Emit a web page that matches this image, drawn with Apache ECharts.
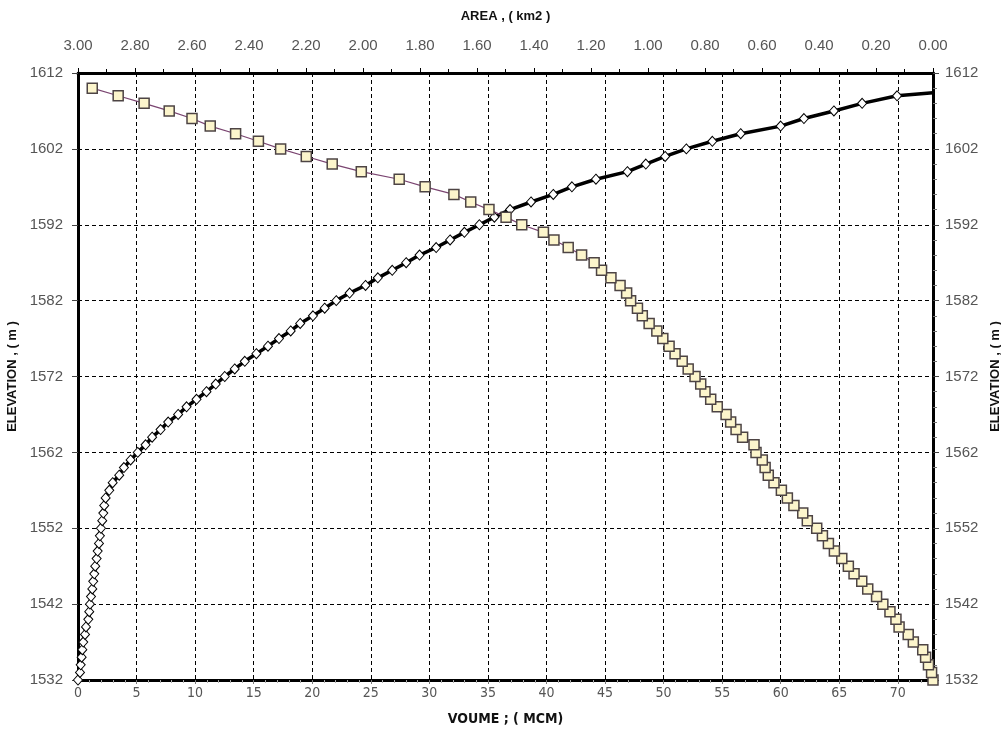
<!DOCTYPE html>
<html>
<head>
<meta charset="utf-8">
<script src="https://cdn.jsdelivr.net/npm/echarts@6/dist/echarts.min.js"></script>
<style>html,body{margin:0;padding:0;background:#fff}#c{width:1001px;height:744px}</style>
</head>
<body>
<div id="c"></div>
<script>
// Volume curve (bottom axis, MCM) vs elevation (m)
const volElev = [1532,1533,1534,1535,1536,1537,1538,1539,1540,1541,
  1542,1543,1544,1545,1546,1547,1548,1549,1550,1551,
  1552,1553,1554,1555,1556,1557,1558,1559,1560,1561,
  1562,1563,1564,1565,1566,1567,1568,1569,1570,1571,
  1572,1573,1574,1575,1576,1577,1578,1579,1580,1581,
  1582,1583,1584,1585,1586,1587,1588,1589,1590,1591,
  1592,1593,1594,1595,1596,1597,1598,1599,1600,1601,
  1602,1603,1604,1605,1606,1607,1608,1609,1609.4];
const volValues = [0,0.17,0.23,0.31,0.37,0.45,0.60,0.68,0.88,0.96,
  1.02,1.11,1.22,1.30,1.39,1.47,1.59,1.68,1.79,1.87,
  1.96,2.07,2.16,2.24,2.36,2.67,2.96,3.52,3.92,4.49,
  5.10,5.77,6.33,7.05,7.70,8.55,9.27,10.12,10.97,11.76,
  12.53,13.38,14.24,15.23,16.22,17.16,18.16,18.97,20.06,21.06,
  22.05,23.19,24.55,25.60,26.83,28.02,29.16,30.58,31.77,32.99,
  34.27,35.55,36.89,38.68,40.58,42.17,44.22,46.91,48.48,50.13,
  51.94,54.16,56.58,59.99,61.98,64.54,66.95,69.93,73.0];
// Area curve (top axis, km2) vs elevation (m)
const areaElev = [1532,1533,1534,1535,1536,1537,1538,1539,1540,1541,
  1542,1543,1544,1545,1546,1547,1548,1549,1550,1551,
  1552,1553,1554,1555,1556,1557,1558,1559,1560,1561,
  1562,1563,1564,1565,1566,1567,1568,1569,1570,1571,
  1572,1573,1574,1575,1576,1577,1578,1579,1580,1581,
  1582,1583,1584,1585,1586,1587,1588,1589,1590,1591,
  1592,1593,1594,1595,1596,1597,1598,1599,1600,1601,
  1602,1603,1604,1605,1606,1607,1608,1609,1610];
const areaValues = [0.000,0.005,0.016,0.026,0.036,0.069,0.087,0.119,0.130,0.151,
  0.176,0.198,0.229,0.250,0.277,0.297,0.320,0.346,0.367,0.388,
  0.408,0.441,0.457,0.488,0.511,0.532,0.558,0.578,0.589,0.599,
  0.621,0.628,0.668,0.691,0.710,0.726,0.757,0.780,0.800,0.815,
  0.835,0.859,0.880,0.905,0.926,0.948,0.969,0.996,1.020,1.037,
  1.061,1.075,1.098,1.130,1.163,1.189,1.233,1.280,1.330,1.367,
  1.443,1.498,1.558,1.622,1.681,1.782,1.873,2.006,2.108,2.199,
  2.289,2.367,2.447,2.536,2.600,2.680,2.768,2.859,2.950];

const volumeData = volValues.map((v, i) => {
  const item = { value: [v, volElev[i]] };
  if (i === volValues.length - 1) item.symbol = 'none';
  return item;
});
const areaData = areaValues.map((a, i) => [a, areaElev[i]]);

const labelFont = 'Arial, "Liberation Sans", sans-serif';
const narrowFont = '"Liberation Sans Narrow", "DejaVu Sans Condensed", Arial, sans-serif';
const axisLine = { show: true, lineStyle: { color: '#000', width: 3 } };
const gridDash = { show: true, lineStyle: { color: '#000', width: 1, type: [4, 3] } };

const chart = echarts.init(document.getElementById('c'), null, { renderer: 'canvas' });
chart.setOption({
  backgroundColor: '#fff',
  animation: false,
  grid: { left: 78, right: 68, top: 73, bottom: 64, containLabel: false, outerBoundsMode: 'none' },
  xAxis: [
    {
      type: 'value', position: 'bottom', min: 0, max: 73, interval: 5,
      name: 'VOUME ; ( MCM)', nameLocation: 'middle', nameGap: 32,
      nameTextStyle: { fontFamily: narrowFont, fontWeight: 'bold', fontSize: 14, color: '#111' },
      axisLine: axisLine,
      axisTick: { show: true, length: 4, lineStyle: { color: '#777' } },
      minorTick: { show: true, splitNumber: 5, length: 3, lineStyle: { color: '#aaa' } },
      axisLabel: { fontFamily: narrowFont, fontSize: 14, color: '#555', margin: 6,
        formatter: v => (v > 72 ? '' : String(v)) },
      splitLine: gridDash
    },
    {
      type: 'value', position: 'top', min: 0, max: 3, interval: 0.2, inverse: true,
      name: 'AREA , ( km2 )', nameLocation: 'middle', nameGap: 50,
      nameTextStyle: { fontFamily: labelFont, fontWeight: 'bold', fontSize: 13, color: '#111' },
      axisLine: axisLine,
      axisTick: { show: true, length: 5, lineStyle: { color: '#000' } },
      minorTick: { show: true, splitNumber: 2, length: 4, lineStyle: { color: '#000' } },
      axisLabel: { fontFamily: labelFont, fontSize: 15, color: '#555', margin: 20,
        formatter: v => v.toFixed(2) },
      splitLine: { show: false }
    }
  ],
  yAxis: [
    {
      type: 'value', position: 'left', min: 1532, max: 1612, interval: 10,
      name: 'ELEVATION , ( m )', nameLocation: 'middle', nameGap: 53, nameRotate: 90,
      nameTextStyle: { fontFamily: labelFont, fontWeight: 'bold', fontSize: 13, color: '#111' },
      axisLine: axisLine,
      axisTick: { show: true, length: 6, lineStyle: { color: '#444' } },
      axisLabel: { fontFamily: labelFont, fontSize: 15, color: '#555', margin: 15,
        formatter: v => String(v) },
      splitLine: gridDash
    },
    {
      type: 'value', position: 'right', min: 1532, max: 1612, interval: 10,
      name: 'ELEVATION , ( m )', nameLocation: 'middle', nameGap: 46, nameRotate: 90,
      nameTextStyle: { fontFamily: labelFont, fontWeight: 'bold', fontSize: 13, color: '#111' },
      axisLine: axisLine,
      axisTick: { show: true, length: 6, lineStyle: { color: '#444' } },
      minorTick: { show: true, splitNumber: 5, length: 4, lineStyle: { color: '#777' } },
      axisLabel: { fontFamily: labelFont, fontSize: 15, color: '#555', margin: 12,
        formatter: v => String(v) },
      splitLine: { show: false }
    }
  ],
  series: [
    {
      name: 'Volume', type: 'line', xAxisIndex: 0, yAxisIndex: 0,
      data: volumeData,
      symbol: 'diamond', symbolSize: [9, 10],
      lineStyle: { color: '#000', width: 3.5 },
      itemStyle: { color: '#fff', borderColor: '#000', borderWidth: 1 },
      z: 3
    },
    {
      name: 'Area', type: 'line', xAxisIndex: 1, yAxisIndex: 0,
      data: areaData,
      symbol: 'rect', symbolSize: 10,
      lineStyle: { color: '#7a4470', width: 1.2 },
      itemStyle: { color: '#fcf5cc', borderColor: '#4d4444', borderWidth: 1.5 },
      z: 4
    }
  ]
});
</script>
</body>
</html>
